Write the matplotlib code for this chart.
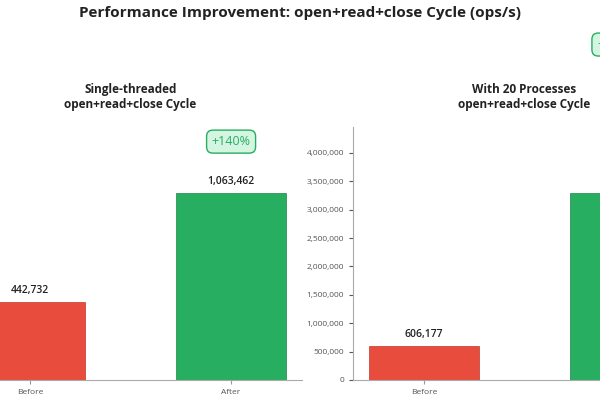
import matplotlib
matplotlib.use("Agg")
import matplotlib.pyplot as plt
from matplotlib.ticker import FuncFormatter

plt.rcParams['font.family'] = ['Open Sans', 'DejaVu Sans']

categories = ["Before", "After"]
single_vals = [442732, 1063462]
multi_vals = [606177, 3300000]
single_gain = "+140%"
multi_gain = "+444%"
colors = ["#e74c3c", "#27ae60"]

fig = plt.figure(figsize=(6, 4), dpi=100)
fig.suptitle("Performance Improvement: open+read+close Cycle (ops/s)",
             fontsize=11, fontweight='bold', y=0.985, color='#222222')

W, H = 600, 400
def add_ax(left_px, right_px):
    return fig.add_axes([left_px / W, (H - 380) / H, (right_px - left_px) / W, 253 / H])

axL = add_ax(-41, 302)
axR = add_ax(353, 696)

fmt = FuncFormatter(lambda v, p: f"{int(v):,}")
for ax, vals, title in [(axL, single_vals, "Single-threaded\nopen+read+close Cycle"),
                        (axR, multi_vals, "With 20 Processes\nopen+read+close Cycle")]:
    x = range(len(categories))
    ax.bar(x, vals, width=0.55, color=colors, edgecolor=['#c0392b', '#1e8449'], linewidth=0.5)
    ax.set_xticks(list(x))
    ax.set_xticklabels(categories, fontsize=6, color='#555555')
    ax.set_ylim(0, max(vals) * 1.35)
    ax.yaxis.set_major_formatter(fmt)
    ax.tick_params(axis='y', labelsize=6, colors='#555555', length=3)
    ax.tick_params(axis='x', length=3, colors='#999999', labelcolor='#555555')
    for s in ['top', 'right']:
        ax.spines[s].set_visible(False)
    for s in ['left', 'bottom']:
        ax.spines[s].set_color('#aaaaaa')
    ax.set_title(title, fontsize=8.5, fontweight='bold', color='#222222', pad=14)
    for xi, v in zip(x, vals):
        ax.text(xi, v + max(vals) * 0.03, f"{v:,}", ha='center', va='bottom',
                fontsize=7.5, fontweight='semibold', color='#222222')

axL.tick_params(axis='y', labelleft=False, left=False)

badge = dict(boxstyle='round,pad=0.4,rounding_size=0.5', fc='#d5f5e3', ec='#27ae60', lw=1)
axL.text(1, single_vals[1] * 1.272, single_gain, ha='center', va='center', fontsize=9,
         color='#27ae60', bbox=badge, clip_on=False)
axR.text(0.86, multi_vals[1] * 1.79, multi_gain, ha='left', va='center', fontsize=9,
         color='#27ae60', bbox=badge, clip_on=False)

fig.savefig("out.png", dpi=100)
